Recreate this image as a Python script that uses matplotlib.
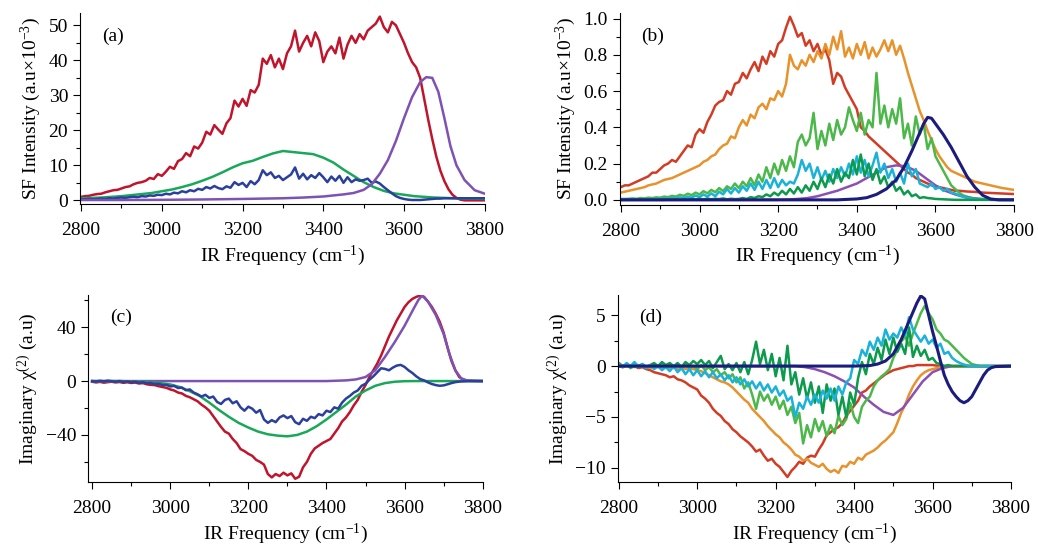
import numpy as np
import matplotlib
matplotlib.use("Agg")
import matplotlib.pyplot as plt
from matplotlib.ticker import MultipleLocator, FormatStrFormatter

plt.rcParams['font.family'] = ['Liberation Serif', 'DejaVu Serif']
plt.rcParams['mathtext.fontset'] = 'custom'
plt.rcParams['mathtext.rm'] = 'Liberation Serif'
plt.rcParams['mathtext.it'] = 'Liberation Serif:italic'

# wavenumber grid of the measured (noisy) traces, cm-1
wn = np.arange(2800, 3801, 10)
# grid of the smooth fitted traces
wn25 = np.arange(2800, 3801, 25)

# ---------------- panel (a): SF intensity, a.u x 1e-3 ----------------
red_a = [1.0, 1.2, 1.3, 1.6, 1.8, 1.9, 2.3, 2.6, 2.9, 3.0,
         3.4, 3.8, 4.0, 4.6, 5.0, 5.2, 5.6, 6.4, 6.1, 7.5,
         7.0, 8.2, 9.6, 9.0, 11.2, 11.8, 13.5, 12.6, 15.4, 14.8,
         16.5, 19.6, 18.8, 21.5, 20.2, 19.0, 22.0, 23.5, 28.5, 26.8,
         29.0, 27.0, 31.5, 30.8, 33.0, 40.5, 39.0, 41.5, 38.0, 40.5,
         37.5, 42.0, 44.0, 48.5, 42.5, 45.0, 47.0, 44.0, 48.0, 45.5,
         39.5, 42.5, 44.0, 42.0, 46.5, 40.5, 44.5, 47.0, 45.0, 47.5,
         46.0, 48.5, 49.5, 50.5, 52.5, 49.5, 48.0, 51.0, 50.0, 47.5,
         45.0, 42.0, 39.5, 38.0, 35.0, 29.0, 23.0, 17.5, 12.5, 8.5,
         5.5, 3.2, 1.6, 0.7, 0.2, 0.0, 0.0, 0.0, 0.0, 0.0, 0.0]
blue_a = [0.3, 0.3, 0.4, 0.3, 0.4, 0.5, 0.4, 0.6, 0.5, 0.7,
          0.8, 0.7, 0.9, 1.0, 0.9, 1.2, 1.1, 1.4, 1.3, 1.6,
          1.5, 1.9, 1.7, 2.2, 2.0, 2.6, 2.3, 2.9, 2.6, 3.3,
          3.0, 3.8, 3.4, 4.1, 3.5, 3.2, 4.0, 3.6, 5.2, 4.4,
          5.0, 3.8, 5.5, 4.6, 5.8, 8.6, 7.2, 8.0, 6.4, 7.0,
          5.8, 6.6, 7.4, 9.4, 6.2, 7.6, 6.0, 7.2, 6.4, 7.8,
          6.6, 5.2, 6.8, 5.6, 7.0, 5.0, 6.6, 5.2, 6.0, 5.6,
          5.8, 6.2, 5.0, 5.4, 4.8, 3.8, 2.9, 2.0, 1.2, 0.7,
          0.4, 0.2, 0.1, 0.1, 0.1, 0.2, 0.3, 0.4, 0.5, 0.5,
          0.6, 0.6, 0.6, 0.6, 0.6, 0.6, 0.6, 0.6, 0.6, 0.6, 0.6]
green_a = [0.6, 0.7, 0.8, 1.0, 1.2, 1.5, 1.8, 2.1, 2.6, 3.1,
           3.8, 4.6, 5.6, 6.7, 8.0, 9.4, 10.6, 11.3, 12.4, 13.4,
           14.1, 13.8, 13.5, 13.2, 12.2, 10.8, 8.8, 7.0, 5.2, 3.8,
           2.7, 2.0, 1.6, 1.2, 1.0, 0.8, 0.7, 0.6, 0.5, 0.5, 0.4]
purple_a_x = [2800, 2900, 3000, 3100, 3200, 3300, 3350, 3400, 3450, 3475,
              3500, 3520, 3540, 3560, 3580, 3600, 3620, 3640, 3655, 3670,
              3685, 3700, 3715, 3730, 3750, 3775, 3800]
purple_a = [0.1, 0.1, 0.15, 0.25, 0.4, 0.6, 0.8, 1.1, 1.7, 2.1,
            3.0, 4.6, 7.6, 11.5, 17.0, 23.5, 29.5, 33.8, 35.2, 35.0,
            31.0, 23.5, 15.5, 10.0, 5.8, 2.9, 1.9]

# ---------------- panel (b): SF intensity, a.u x 1e-3 ----------------
red_b = [0.07, 0.08, 0.08, 0.09, 0.10, 0.11, 0.12, 0.13, 0.15, 0.15,
         0.17, 0.19, 0.20, 0.22, 0.21, 0.24, 0.27, 0.30, 0.29, 0.36,
         0.39, 0.37, 0.43, 0.47, 0.52, 0.54, 0.55, 0.60, 0.58, 0.64,
         0.65, 0.70, 0.67, 0.72, 0.76, 0.71, 0.79, 0.75, 0.82, 0.79,
         0.86, 0.88, 0.95, 1.01, 0.96, 0.90, 0.92, 0.85, 0.88, 0.82,
         0.86, 0.80, 0.83, 0.77, 0.64, 0.70, 0.68, 0.62, 0.58, 0.54,
         0.50, 0.40, 0.38, 0.35, 0.33, 0.31, 0.29, 0.27, 0.25, 0.23,
         0.21, 0.19, 0.17, 0.15, 0.14, 0.12, 0.11, 0.10, 0.09, 0.08,
         0.075, 0.07, 0.065, 0.06, 0.055, 0.05, 0.05, 0.048, 0.046, 0.045,
         0.044, 0.042, 0.04, 0.039, 0.038, 0.037, 0.036, 0.035, 0.034, 0.033, 0.032]
orange_b = [0.04, 0.045, 0.05, 0.055, 0.06, 0.065, 0.07, 0.08, 0.085, 0.09,
            0.10, 0.11, 0.115, 0.12, 0.13, 0.14, 0.15, 0.16, 0.17, 0.18,
            0.19, 0.21, 0.22, 0.24, 0.25, 0.28, 0.30, 0.31, 0.35, 0.34,
            0.40, 0.44, 0.41, 0.47, 0.45, 0.51, 0.53, 0.50, 0.56, 0.55,
            0.60, 0.57, 0.64, 0.80, 0.74, 0.72, 0.77, 0.74, 0.80, 0.76,
            0.82, 0.78, 0.86, 0.80, 0.90, 0.83, 0.93, 0.79, 0.84, 0.78,
            0.86, 0.80, 0.87, 0.78, 0.84, 0.79, 0.83, 0.88, 0.82, 0.88,
            0.80, 0.85, 0.78, 0.70, 0.63, 0.56, 0.49, 0.44, 0.38, 0.33,
            0.28, 0.24, 0.21, 0.18, 0.16, 0.15, 0.14, 0.13, 0.12, 0.11,
            0.10, 0.095, 0.09, 0.085, 0.08, 0.075, 0.07, 0.065, 0.062, 0.058, 0.055]
lgreen_b = [0.005, 0.005, 0.006, 0.008, 0.006, 0.010, 0.008, 0.012, 0.010, 0.014,
            0.012, 0.018, 0.015, 0.022, 0.018, 0.028, 0.022, 0.034, 0.026, 0.040,
            0.030, 0.048, 0.036, 0.055, 0.042, 0.065, 0.048, 0.075, 0.060, 0.090,
            0.065, 0.10, 0.075, 0.12, 0.08, 0.14, 0.10, 0.18, 0.12, 0.20,
            0.14, 0.22, 0.16, 0.24, 0.18, 0.32, 0.36, 0.30, 0.34, 0.48,
            0.28, 0.38, 0.30, 0.42, 0.33, 0.44, 0.36, 0.40, 0.51, 0.44,
            0.38, 0.48, 0.36, 0.44, 0.40, 0.70, 0.42, 0.52, 0.40, 0.50,
            0.42, 0.56, 0.34, 0.42, 0.30, 0.46, 0.36, 0.42, 0.28, 0.34,
            0.24, 0.20, 0.16, 0.12, 0.08, 0.06, 0.04, 0.025, 0.018, 0.012,
            0.008, 0.006, 0.004, 0.003, 0.002, 0.002, 0.001, 0.001, 0.001, 0.0, 0.0]
dgreen_b = [0.0, 0.0, 0.0, 0.0, 0.0, 0.0, 0.0, 0.0, 0.0, 0.0,
            0.0, 0.0, 0.002, 0.0, 0.003, 0.0, 0.004, 0.001, 0.005, 0.002,
            0.006, 0.002, 0.007, 0.003, 0.006, 0.004, 0.008, 0.003, 0.006, 0.004,
            0.005, 0.01, 0.005, 0.015, 0.01, 0.02, 0.015, 0.03, 0.02, 0.04,
            0.025, 0.05, 0.03, 0.06, 0.035, 0.07, 0.04, 0.08, 0.05, 0.10,
            0.06, 0.12, 0.07, 0.14, 0.09, 0.17, 0.10, 0.15, 0.12, 0.22,
            0.14, 0.25, 0.13, 0.20, 0.11, 0.17, 0.09, 0.13, 0.07, 0.10,
            0.05, 0.07, 0.03, 0.05, 0.02, 0.03, 0.01, 0.015, 0.01, 0.008,
            0.005, 0.004, 0.003, 0.002, 0.001, 0.0, 0.0, 0.0, 0.0, 0.0,
            0.0, 0.0, 0.0, 0.0, 0.0, 0.0, 0.0, 0.0, 0.0, 0.0, 0.0]
cyan_b = [0.0, 0.002, 0.0, 0.003, 0.001, 0.004, 0.002, 0.005, 0.003, 0.006,
          0.004, 0.008, 0.005, 0.010, 0.007, 0.014, 0.009, 0.018, 0.012, 0.024,
          0.015, 0.03, 0.018, 0.036, 0.02, 0.045, 0.03, 0.06, 0.035, 0.065,
          0.04, 0.075, 0.05, 0.09, 0.055, 0.10, 0.06, 0.11, 0.065, 0.12,
          0.07, 0.11, 0.08, 0.10, 0.09, 0.14, 0.22, 0.16, 0.20, 0.12,
          0.18, 0.11, 0.16, 0.10, 0.17, 0.12, 0.18, 0.13, 0.20, 0.14,
          0.24, 0.15, 0.22, 0.13, 0.19, 0.26, 0.15, 0.20, 0.12, 0.17,
          0.10, 0.15, 0.09, 0.20, 0.13, 0.17, 0.09, 0.08, 0.07, 0.09,
          0.06, 0.07, 0.05, 0.06, 0.04, 0.035, 0.025, 0.018, 0.012, 0.008,
          0.005, 0.003, 0.002, 0.001, 0.0, 0.0, 0.0, 0.0, 0.0, 0.0, 0.0]
purple_b = [0.0, 0.0, 0.0, 0.0, 0.0, 0.0, 0.0, 0.0, 0.0, 0.0,
            0.0, 0.0, 0.0, 0.0, 0.0, 0.0, 0.0, 0.002, 0.005, 0.01,
            0.02, 0.035, 0.05, 0.07, 0.09, 0.12, 0.15, 0.18, 0.19, 0.185,
            0.16, 0.12, 0.08, 0.05, 0.03, 0.015, 0.007, 0.003, 0.001, 0.0, 0.0]
navy_b_x = [2800, 3350, 3400, 3425, 3450, 3475, 3500, 3520, 3540, 3560,
            3570, 3580, 3590, 3600, 3620, 3640, 3660, 3680, 3700, 3720,
            3740, 3760, 3800]
navy_b = [0.0, 0.0, 0.005, 0.012, 0.03, 0.06, 0.11, 0.18, 0.27, 0.37,
          0.42, 0.455, 0.45, 0.42, 0.36, 0.29, 0.21, 0.13, 0.07, 0.025,
          0.005, 0.0, 0.0]

# ---------------- panel (c): Im chi(2), a.u ----------------
red_c = [-0.5, -1.0, -0.6, -1.2, -0.8, -0.5, -1.0, -0.7, -1.3, -0.9,
         -1.4, -1.1, -1.8, -1.5, -2.4, -2.8, -3.0, -3.8, -4.4, -5.0,
         -6.2, -7.0, -8.5, -9.2, -11.0, -12.0, -13.5, -15.0, -17.5, -19.5,
         -22.0, -26.0, -30.0, -34.0, -37.5, -39.0, -43.0, -46.0, -50.5, -52.0,
         -54.0, -55.5, -58.5, -60.0, -62.0, -69.0, -71.5, -69.0, -70.5, -68.0,
         -70.0, -68.5, -72.5, -71.0, -64.0, -60.0, -54.0, -50.0, -48.0, -46.0,
         -44.5, -43.0, -39.0, -35.0, -30.0, -27.0, -23.0, -18.0, -14.0, -8.0,
         -3.0, 3.0, 8.0, 13.0, 19.0, 26.0, 33.0, 39.0, 45.0, 50.0,
         55.0, 58.5, 61.0, 62.5, 63.5, 62.5, 59.0, 55.0, 50.0, 44.0,
         36.0, 25.0, 15.0, 8.0, 3.0, 1.0, 0.3, 0.1, 0.0, 0.0, 0.0]
blue_c = [0.0, -0.3, 0.2, -0.2, 0.3, -0.1, -0.5, 0.0, -0.6, -0.3,
          -0.8, -0.5, -1.2, -0.9, -1.6, -1.4, -2.2, -2.0, -3.0, -2.8,
          -4.0, -3.6, -5.2, -4.8, -6.8, -6.2, -8.5, -9.8, -11.5, -10.2,
          -12.5, -11.5, -15.5, -17.0, -14.0, -13.0, -16.5, -15.0, -19.5, -22.0,
          -19.0, -20.5, -23.5, -21.5, -28.5, -31.0, -29.0, -30.5, -27.0, -25.5,
          -27.5, -26.0, -30.5, -32.0, -28.0, -29.5, -26.5, -27.5, -24.5, -25.5,
          -22.0, -23.0, -19.5, -20.5, -16.0, -13.0, -11.0, -8.5, -7.0, -3.5,
          -2.0, 1.0, 3.5, 6.5, 9.5, 9.0, 8.0, 10.0, 11.5, 12.0,
          10.5, 8.0, 6.0, 3.5, 1.5, 0.5, -1.0, -2.2, -3.0, -3.5,
          -3.2, -2.4, -1.5, -0.8, -0.4, -0.2, -0.1, 0.0, 0.0, 0.0, 0.0]
green_c = [0.0, 0.0, 0.0, 0.0, -0.3, -0.5, -0.9, -1.5, -2.5, -4.5,
           -7.5, -11.0, -16.0, -21.5, -26.5, -31.0, -34.5, -37.5, -39.5, -40.5,
           -41.0, -40.0, -37.5, -33.5, -28.5, -23.0, -17.5, -11.5, -7.0, -3.5,
           -1.5, -0.5, -0.1, 0.0, 0.0, 0.0, 0.0, 0.0, 0.0, 0.0, 0.0]
purple_c_x = [2800, 3400, 3450, 3475, 3500, 3525, 3550, 3575, 3600, 3620,
              3635, 3645, 3660, 3680, 3700, 3715, 3730, 3745, 3760, 3800]
purple_c = [0.0, 0.0, 0.5, 1.2, 3.0, 8.0, 18.0, 29.0, 41.0, 52.0,
            60.0, 63.5, 59.0, 49.0, 35.0, 20.0, 8.0, 2.0, 0.5, 0.0]

# ---------------- panel (d): Im chi(2), a.u ----------------
red_d = [0.0, -0.1, 0.1, -0.1, 0.0, -0.2, -0.1, -0.3, -0.4, -0.6,
         -0.7, -0.8, -0.9, -1.1, -1.0, -1.3, -1.4, -1.6, -1.9, -2.1,
         -2.3, -2.9, -3.2, -3.6, -4.2, -4.6, -4.9, -5.4, -5.7, -6.2,
         -6.5, -6.9, -7.2, -7.5, -7.9, -8.4, -8.2, -8.8, -9.3, -9.1,
         -9.6, -9.9, -10.4, -10.9, -10.3, -9.9, -9.4, -9.6, -9.0, -8.8,
         -8.9, -8.2, -7.6, -6.8, -6.5, -6.2, -6.0, -5.6, -4.9, -4.4,
         -3.9, -3.4, -2.6, -2.4, -2.0, -1.7, -1.4, -1.1, -0.8, -0.6,
         -0.4, -0.3, -0.2, -0.1, 0.0, 0.0, 0.1, 0.1, 0.1, 0.1,
         0.1, 0.05, 0.0, 0.0, 0.0, 0.0, 0.0, 0.0, 0.0, 0.0,
         0.0, 0.0, 0.0, 0.0, 0.0, 0.0, 0.0, 0.0, 0.0, 0.0, 0.0]
orange_d = [0.0, -0.1, 0.1, 0.0, -0.1, 0.1, -0.1, 0.0, -0.2, 0.0,
            -0.1, -0.2, 0.0, -0.2, -0.1, -0.3, -0.1, -0.3, -0.2, -0.3,
            -0.4, -0.5, -0.7, -0.9, -1.1, -1.3, -1.5, -1.6, -1.8, -2.1,
            -2.5, -2.9, -3.3, -3.6, -4.2, -4.6, -5.0, -5.4, -5.9, -6.3,
            -6.7, -7.0, -7.5, -7.8, -8.2, -8.7, -8.9, -9.3, -9.1, -9.5,
            -9.7, -9.9, -9.6, -10.1, -10.4, -10.2, -10.5, -9.8, -9.9, -9.4,
            -9.6, -9.0, -9.2, -8.7, -8.5, -8.3, -8.0, -7.6, -7.3, -6.9,
            -6.5, -5.6, -4.6, -3.8, -2.8, -2.0, -1.4, -0.9, -0.6, -0.4,
            -0.3, -0.2, -0.1, 0.0, 0.0, 0.0, 0.0, 0.0, 0.0, 0.0,
            0.0, 0.0, 0.0, 0.0, 0.0, 0.0, 0.0, 0.0, 0.0, 0.0, 0.0]
lgreen_d = [0.2, -0.1, 0.1, -0.2, 0.0, -0.1, 0.1, -0.2, 0.0, 0.2,
            -0.1, 0.3, 0.0, 0.2, -0.2, 0.1, -0.1, 0.2, -0.2, 0.0,
            -0.3, 0.1, -0.4, -0.1, -0.6, -0.3, -0.9, -0.6, -1.2, -0.8,
            -1.6, -1.1, -2.2, -1.6, -2.8, -4.2, -2.5, -3.4, -2.8, -3.8,
            -3.0, -4.2, -3.4, -4.8, -4.0, -5.6, -4.6, -7.6, -5.8, -7.0,
            -5.2, -6.4, -5.4, -6.9, -5.8, -6.6, -4.9, -5.8, -5.2, -3.6,
            -5.0, -5.6, -4.0, -3.4, -3.0, -2.0, -1.4, -1.0, -0.7, -0.3,
            0.8, 1.6, 2.4, 2.9, 2.0, 3.2, 4.2, 5.2, 5.9, 5.2,
            4.6, 3.6, 3.2, 2.6, 2.4, 2.0, 1.6, 1.2, 0.8, 0.5,
            0.2, 0.1, 0.0, 0.0, 0.0, 0.0, 0.0, 0.0, 0.0, 0.0, 0.0]
dgreen_d = [0.3, 0.0, 0.2, -0.1, 0.3, 0.0, 0.2, -0.1, 0.1, 0.3,
            0.0, 0.4, 0.1, 0.3, 0.0, 0.3, -0.1, 0.4, 0.1, 0.5,
            0.2, 0.6, 0.1, 0.5, -0.2, 0.4, 1.0, -0.3, 0.2, -0.4,
            0.3, -0.6, 0.4, -0.8, 0.6, 2.4, 0.2, 1.6, -0.4, 1.2,
            -1.0, 0.8, -1.4, 2.0, -1.8, -0.6, -2.8, -1.2, -3.2, -1.6,
            -3.6, -2.0, -4.6, -1.8, -3.4, -2.2, -4.8, -3.0, -5.0, -2.6,
            -3.8, -1.2, 0.4, -0.8, 1.2, 0.2, 1.8, 0.6, 2.6, 1.2,
            2.8, 1.4, 2.2, 1.2, 3.8, 0.9, 2.0, 1.0, 1.6, 0.6,
            0.8, 0.3, 0.2, 0.0, 0.1, 0.0, 0.0, 0.0, 0.0, 0.0,
            0.0, 0.0, 0.0, 0.0, 0.0, 0.0, 0.0, 0.0, 0.0, 0.0, 0.0]
cyan_d = [0.2, -0.1, 0.3, 0.0, 0.4, -0.1, 0.2, -0.2, 0.1, -0.3,
          0.0, -0.4, -0.1, -0.5, 0.0, -0.6, -0.2, -0.8, -0.3, -0.9,
          -0.4, -1.0, -0.5, -1.1, -0.6, -1.2, -0.8, -1.4, -0.9, -1.6,
          -1.1, -1.8, -1.3, -2.0, -1.5, -2.2, -1.6, -2.4, -1.8, -2.6,
          -2.0, -2.9, -2.4, -3.4, -3.0, -5.0, -3.6, -4.2, -3.0, -3.8,
          -2.8, -3.6, -2.4, -3.2, -2.2, -3.4, -2.0, -2.8, -1.6, -1.2,
          0.6, 0.2, 1.6, 1.0, 2.4, 1.6, 2.8, 2.0, 3.6, 2.6,
          3.2, 2.8, 3.8, 3.0, 4.8, 3.6, 3.0, 2.4, 3.0, 2.2,
          2.6, 1.8, 2.2, 1.2, 1.4, 0.8, 0.5, 0.3, 0.15, 0.05,
          0.0, 0.0, 0.0, 0.0, 0.0, 0.0, 0.0, 0.0, 0.0, 0.0, 0.0]
purple_d = [0.0, 0.0, 0.0, 0.0, 0.0, 0.0, 0.0, 0.0, 0.0, 0.0,
            0.0, 0.0, 0.0, 0.0, 0.0, 0.0, 0.0, 0.0, 0.0, -0.1,
            -0.3, -0.6, -1.0, -1.5, -2.1, -3.0, -3.8, -4.5, -4.8, -4.1,
            -2.8, -1.5, -0.6, -0.2, 0.0, 0.0, 0.0, 0.0, 0.0, 0.0, 0.0]
navy_d_x = [2800, 3400, 3440, 3460, 3480, 3500, 3520, 3540, 3560, 3570,
            3580, 3590, 3600, 3610, 3620, 3630, 3640, 3650, 3660, 3670,
            3680, 3690, 3700, 3710, 3720, 3730, 3740, 3750, 3760, 3800]
navy_d = [0.0, 0.0, 0.05, 0.2, 0.5, 1.2, 2.6, 4.4, 6.2, 6.9,
          6.6, 5.0, 3.4, 2.0, 0.5, -0.9, -1.8, -2.5, -3.0, -3.4,
          -3.6, -3.4, -3.0, -2.3, -1.6, -0.9, -0.4, -0.15, -0.05, 0.0]

C_RED, C_GREEN, C_BLUE, C_PURPLE = '#c0142c', '#18a858', '#2a3f9e', '#7d52b4'
C_RED2, C_ORANGE, C_LGREEN, C_DGREEN = '#d23c24', '#e8922c', '#4cb84a', '#0c9a4c'
C_CYAN, C_PURPLE2, C_NAVY = '#1ab2d8', '#8c4fb2', '#1c1c7e'

fig = plt.figure(figsize=(10.38, 5.46), dpi=100)
ax_a = fig.add_axes([0.077, 0.626, 0.390, 0.350])
ax_b = fig.add_axes([0.597, 0.625, 0.380, 0.351])
ax_c = fig.add_axes([0.085, 0.117, 0.380, 0.343])
ax_d = fig.add_axes([0.595, 0.117, 0.379, 0.343])

lw = 1.8
ax_a.plot(wn, red_a, color=C_RED, lw=lw)
ax_a.plot(wn25, green_a, color=C_GREEN, lw=lw)
ax_a.plot(wn, blue_a, color=C_BLUE, lw=lw)
ax_a.plot(purple_a_x, purple_a, color=C_PURPLE, lw=lw)

ax_b.plot(wn, red_b, color=C_RED2, lw=lw)
ax_b.plot(wn, orange_b, color=C_ORANGE, lw=lw)
ax_b.plot(wn, lgreen_b, color=C_LGREEN, lw=lw)
ax_b.plot(wn25, purple_b, color=C_PURPLE2, lw=lw)
ax_b.plot(wn, cyan_b, color=C_CYAN, lw=lw)
ax_b.plot(wn, dgreen_b, color=C_DGREEN, lw=lw)
ax_b.plot(navy_b_x, navy_b, color=C_NAVY, lw=lw + 0.4)

ax_c.plot(wn, red_c, color=C_RED, lw=lw)
ax_c.plot(purple_c_x, purple_c, color=C_PURPLE, lw=lw)
ax_c.plot(wn25, green_c, color=C_GREEN, lw=lw)
ax_c.plot(wn, blue_c, color=C_BLUE, lw=lw)

ax_d.plot(wn, red_d, color=C_RED2, lw=lw)
ax_d.plot(wn, orange_d, color=C_ORANGE, lw=lw)
ax_d.plot(wn25, purple_d, color=C_PURPLE2, lw=lw)
ax_d.plot(wn, lgreen_d, color=C_LGREEN, lw=lw)
ax_d.plot(wn, dgreen_d, color=C_DGREEN, lw=lw)
ax_d.plot(wn, cyan_d, color=C_CYAN, lw=lw)
ax_d.plot(navy_d_x, navy_d, color=C_NAVY, lw=lw + 0.4)

fs = 14
xlab = 'IR Frequency (cm$^{-1}$)'
panels = [
    (ax_a, '(a)', (2797, 3800), (-1.1, 53.5), 10, 5, 'SF Intensity (a.u\u00d710$^{-3}$)'),
    (ax_b, '(b)', (2797, 3800), (-0.027, 1.03), 0.2, 0.1, 'SF Intensity (a.u\u00d710$^{-3}$)'),
    (ax_c, '(c)', (2790, 3800), (-75, 64), 40, 20, 'Imaginary \u03c7$^{(2)}$ (a.u)'),
    (ax_d, '(d)', (2797, 3800), (-11.4, 7.0), 5, 2.5, 'Imaginary \u03c7$^{(2)}$ (a.u)'),
]
for ax, tag, xl, yl, maj, mnr, ylab in panels:
    ax.set_xlim(*xl)
    ax.set_ylim(*yl)
    ax.spines['top'].set_visible(False)
    ax.spines['right'].set_visible(False)
    ax.xaxis.set_major_locator(MultipleLocator(200))
    ax.xaxis.set_minor_locator(MultipleLocator(100))
    ax.yaxis.set_major_locator(MultipleLocator(maj))
    ax.yaxis.set_minor_locator(MultipleLocator(mnr))
    ax.tick_params(direction='out', length=5, width=0.8, labelsize=fs)
    ax.tick_params(axis='x', pad=8)
    ax.tick_params(which='minor', direction='out', length=3, width=0.8)
    ax.set_xlabel(xlab, fontsize=fs, labelpad=3)
    ax.set_ylabel(ylab, fontsize=fs, labelpad=4)
    ax.text(0.055, 0.88, tag, transform=ax.transAxes, fontsize=fs, va='center')

ax_b.yaxis.set_major_formatter(FormatStrFormatter('%.1f'))

fig.savefig('out.png', dpi=100)
